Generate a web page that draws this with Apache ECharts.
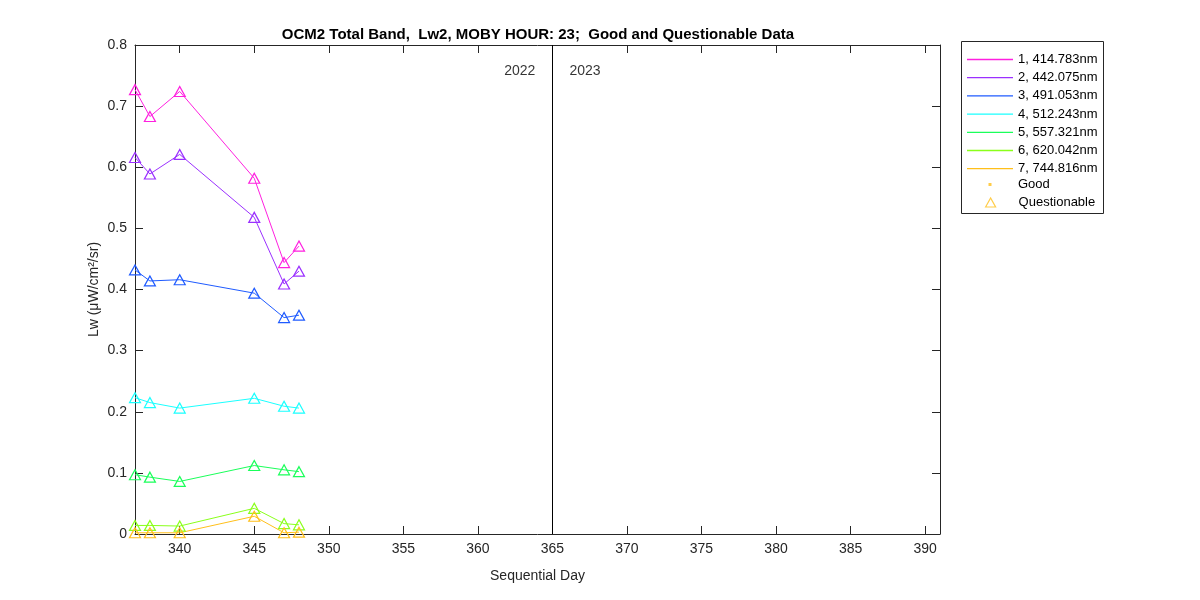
<!DOCTYPE html>
<html>
<head>
<meta charset="utf-8">
<script src="https://cdn.jsdelivr.net/npm/echarts@6/dist/echarts.min.js"></script>
<style>html,body{margin:0;padding:0;background:#fff}#c{width:1200px;height:600px}</style>
</head>
<body>
<div id="c"></div>
<script>
const days = [337, 338, 340, 345, 347, 348];
const band1 = [0.727, 0.683, 0.724, 0.582, 0.444, 0.471];
const band2 = [0.616, 0.589, 0.621, 0.518, 0.409, 0.430];
const band3 = [0.432, 0.414, 0.416, 0.394, 0.354, 0.358];
const band4 = [0.223, 0.215, 0.206, 0.222, 0.209, 0.206];
const band5 = [0.097, 0.093, 0.086, 0.112, 0.105, 0.102];
const band6 = [0.014, 0.014, 0.013, 0.042, 0.017, 0.015];
const band7 = [0.002, 0.002, 0.002, 0.029, 0.002, 0.003];
const bandNames = ['1, 414.783nm', '2, 442.075nm', '3, 491.053nm', '4, 512.243nm', '5, 557.321nm', '6, 620.042nm', '7, 744.816nm'];
const xTicks = [340, 345, 350, 355, 360, 365, 370, 375, 380, 385, 390];
const yearSplit = 365;
const yearLabels = ['2022', '2023'];
const yearLabelY = 0.7575;

const colors = ['#ff20e0', '#9b30ff', '#1f5bff', '#1affff', '#1aff5a', '#8aff1a', '#ffbf1a'];
const bands = [band1, band2, band3, band4, band5, band6, band7];
const FONT = 'Liberation Sans, Arial, sans-serif';
const AX = '#262626';

const series = [];
bands.forEach((b, i) => {
  series.push({
    name: 'd' + i, type: 'line',
    data: days.map((d, k) => [d, b[k]]),
    symbol: 'triangle', symbolSize: [11, 10],
    lineStyle: { color: colors[i], width: 1 },
    itemStyle: { color: 'rgba(0,0,0,0)', borderColor: colors[i], borderWidth: 1.2 },
    z: 3, silent: true
  });
});
bandNames.forEach((n, i) => {
  series.push({ name: n, type: 'line', data: [], symbol: 'none', lineStyle: { color: colors[i], width: 1 }, itemStyle: { color: colors[i] } });
});
series.push({ name: 'Good', type: 'scatter', data: [], symbol: 'circle', itemStyle: { color: '#ffbf1a' } });
series.push({ name: 'Questionable', type: 'scatter', data: [], symbol: 'triangle', itemStyle: { color: '#fff', borderColor: '#ffbf1a', borderWidth: 1.2 } });
series.push({
  name: 'split', type: 'scatter', data: [], silent: true,
  markLine: { symbol: 'none', silent: true, label: { show: false }, lineStyle: { color: '#000', width: 1, type: 'solid' }, data: [{ xAxis: yearSplit }] }
});
series.push({
  name: 'years', type: 'scatter', symbolSize: 0, silent: true,
  data: [
    { value: [yearSplit, yearLabelY], label: { show: true, position: 'left', distance: 17, formatter: yearLabels[0] } },
    { value: [yearSplit, yearLabelY], label: { show: true, position: 'right', distance: 17, formatter: yearLabels[1] } }
  ],
  label: { color: '#000', fontSize: 14, fontFamily: FONT }
});

const LINE_ICON = 'path://M0,0L46,0L46,1.3L0,1.3Z';
const DOT_ICON = 'path://M0,0M46,4M21.5,0.5L24.5,0.5L24.5,3.5L21.5,3.5Z';
const TRI_ICON = 'path://M0,0M46,9M18,9L23,0L28,9Z';
const option = {
  animation: false,
  backgroundColor: '#fff',
  title: {
    text: 'OCM2 Total Band,  Lw2, MOBY HOUR: 23;  Good and Questionable Data',
    left: 533, top: 22, textAlign: 'center',
    textStyle: { fontFamily: FONT, fontSize: 15, fontWeight: 'bold', color: '#000' }
  },
  grid: { left: 135, right: 260, top: 45, bottom: 66, containLabel: false },
  xAxis: [{
    type: 'value', min: 337, max: 391,
    name: 'Sequential Day', nameLocation: 'middle', nameGap: 35,
    nameTextStyle: { fontFamily: FONT, fontSize: 14, color: AX },
    axisLine: { show: true, onZero: false, lineStyle: { color: AX, width: 1 } },
    axisTick: { show: true, inside: true, length: 8, customValues: xTicks, lineStyle: { color: AX } },
    axisLabel: { customValues: xTicks, fontFamily: FONT, fontSize: 14, color: AX, margin: 8 },
    splitLine: { show: false }
  }, {
    type: 'value', min: 337, max: 391, position: 'top',
    axisLine: { show: true, onZero: false, lineStyle: { color: AX, width: 1 } },
    axisTick: { show: true, inside: true, length: 8, customValues: xTicks, lineStyle: { color: AX } },
    axisLabel: { show: false }, splitLine: { show: false }
  }],
  yAxis: [{
    type: 'value', min: 0, max: 0.8, interval: 0.1,
    name: 'Lw (μW/cm²/sr)', nameLocation: 'middle', nameGap: 34, nameMoveOverlap: false,
    nameTextStyle: { fontFamily: FONT, fontSize: 14, color: AX },
    axisLine: { show: true, onZero: false, lineStyle: { color: AX, width: 1 } },
    axisTick: { show: true, inside: true, length: 8, lineStyle: { color: AX } },
    axisLabel: { fontFamily: FONT, fontSize: 14, color: AX, margin: 8 },
    splitLine: { show: false }
  }, {
    type: 'value', min: 0, max: 0.8, interval: 0.1, position: 'right',
    axisLine: { show: true, onZero: false, lineStyle: { color: AX, width: 1 } },
    axisTick: { show: true, inside: true, length: 8, lineStyle: { color: AX } },
    axisLabel: { show: false }, splitLine: { show: false }
  }],
  graphic: [{
    type: 'rect', z: 0, shape: { x: 961.5, y: 41.5, width: 142, height: 172 },
    style: { fill: '#fff', stroke: AX, lineWidth: 1 }
  }],
  legend: [{
    data: bandNames.map(n => ({ name: n, icon: LINE_ICON })),
    orient: 'vertical', left: 967, top: 53, padding: 0,
    itemWidth: 46, itemHeight: 14, itemGap: 5.2, z: 10, selectedMode: false,
    textStyle: { fontFamily: FONT, fontSize: 13, color: '#000' }
  }, {
    data: [{ name: 'Good', icon: DOT_ICON }], orient: 'vertical', left: 967, top: 178, padding: 0,
    itemWidth: 46, itemHeight: 4, z: 10, selectedMode: false,
    itemStyle: { color: '#ffbf1a', borderWidth: 0 },
    textStyle: { fontFamily: FONT, fontSize: 13, color: '#000' }
  }, {
    data: [{ name: 'Questionable', icon: TRI_ICON }], orient: 'vertical', left: 967, top: 196, padding: 0,
    itemWidth: 46, itemHeight: 9, z: 10, selectedMode: false,
    itemStyle: { borderColor: '#ffbf1a', borderWidth: 1.2, color: '#fff' },
    textStyle: { fontFamily: FONT, fontSize: 13, color: '#000' }
  }],
  series: series
};
series.forEach(s => { if (s.name === 'split' || s.name === 'years') { s.xAxisIndex = 0; s.yAxisIndex = 0; } });
const chart = echarts.init(document.getElementById('c'));
chart.setOption(option);
</script>
</body>
</html>
